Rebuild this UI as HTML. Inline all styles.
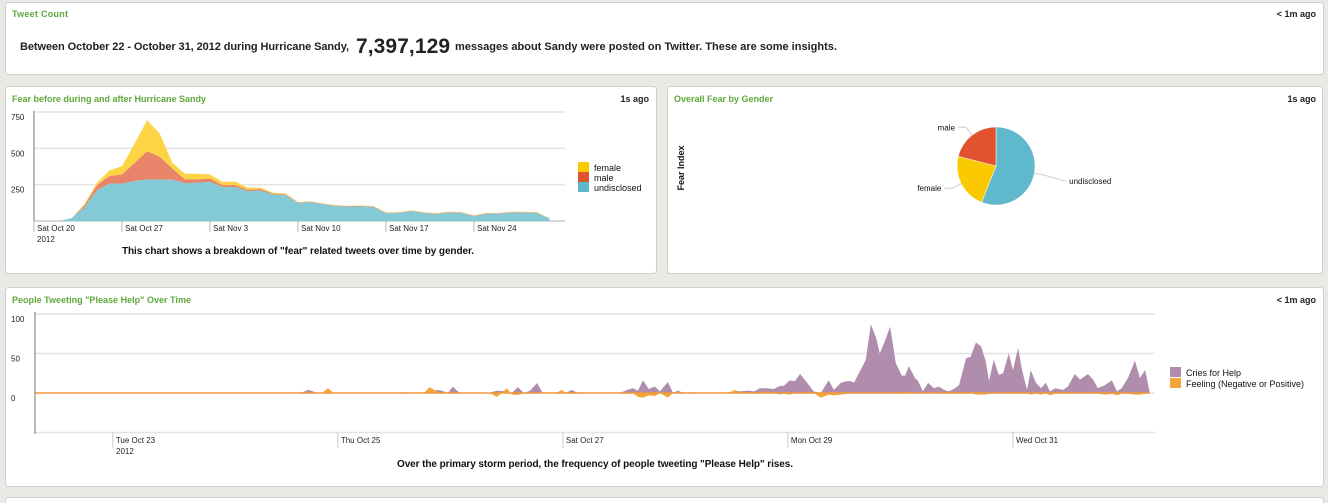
<!DOCTYPE html>
<html><head><meta charset="utf-8"><style>
html,body{margin:0;padding:0;background:#e9e9e6;}
svg{display:block;font-family:"Liberation Sans",sans-serif;}
</style></head><body>
<svg id="page" width="1328" height="503" viewBox="0 0 1328 503">
<g>
<rect x="5.5" y="2.5" width="1318" height="72" rx="3" fill="#fff" stroke="#d0d0cc"/>
<text x="12" y="17" font-size="9" font-weight="bold" fill="#5fa83a" textLength="56">Tweet Count</text>
<text x="1316" y="17" font-size="9" font-weight="bold" fill="#222" text-anchor="end">&lt; 1m ago</text>
<text x="20" y="50" font-size="11" font-weight="bold" fill="#222" textLength="329">Between October 22 - October 31, 2012 during Hurricane Sandy,</text>
<text x="356" y="53" font-size="21" font-weight="bold" fill="#222" textLength="94">7,397,129</text>
<text x="455" y="50" font-size="11" font-weight="bold" fill="#222" textLength="382">messages about Sandy were posted on Twitter. These are some insights.</text>
</g>
<g>
<rect x="5.5" y="86.5" width="651" height="187" rx="3" fill="#fff" stroke="#d0d0cc"/>
<text x="12" y="102" font-size="9" font-weight="bold" fill="#5fa83a" textLength="194">Fear before during and after Hurricane Sandy</text>
<text x="649" y="102" font-size="9" font-weight="bold" fill="#222" text-anchor="end">1s ago</text>
<g id="fearChart"></g>
<text x="298" y="254" font-size="10" font-weight="bold" fill="#111" text-anchor="middle" textLength="352">This chart shows a breakdown of "fear" related tweets over time by gender.</text>
</g>
<g>
<rect x="667.5" y="86.5" width="655" height="187" rx="3" fill="#fff" stroke="#d0d0cc"/>
<text x="674" y="102" font-size="9" font-weight="bold" fill="#5fa83a" textLength="99">Overall Fear by Gender</text>
<text x="1316" y="102" font-size="9" font-weight="bold" fill="#222" text-anchor="end">1s ago</text>
<text x="684" y="168" font-size="9" font-weight="bold" fill="#111" text-anchor="middle" transform="rotate(-90 684 168)">Fear Index</text>
<g id="pieChart"></g>
</g>
<g>
<rect x="5.5" y="287.5" width="1318" height="199" rx="3" fill="#fff" stroke="#d0d0cc"/>
<text x="12" y="303" font-size="9" font-weight="bold" fill="#5fa83a" textLength="179">People Tweeting "Please Help" Over Time</text>
<text x="1316" y="303" font-size="9" font-weight="bold" fill="#222" text-anchor="end">&lt; 1m ago</text>
<g id="helpChart"></g>
<text x="595" y="467" font-size="10" font-weight="bold" fill="#111" text-anchor="middle" textLength="396">Over the primary storm period, the frequency of people tweeting "Please Help" rises.</text>
</g>
<rect x="5.5" y="497.5" width="1318" height="20" rx="3" fill="#fff" stroke="#d0d0cc"/>
</svg>
<script>
// ---------- Fear chart data (daily from Sat Oct 20) ----------
const fearDays = Array.from({length:42},(_,i)=>i);
const fearUndisclosed = [0,0,0,20,93,211,257,257,275,285,285,285,261,263,269,232,234,205,210,183,177,124,130,114,103,99,101,97,53,55,67,55,48,58,55,33,50,50,58,58,55,16];
const fearMale = [0,0,0,0,11,34,53,62,124,195,156,75,25,23,23,14,14,9,9,5,5,3,3,3,3,3,3,3,3,3,3,3,3,3,3,3,3,3,3,3,3,2];
const fearFemale = [0,0,0,0,11,16,39,58,133,213,161,41,39,39,28,23,23,16,11,7,7,3,3,3,3,3,3,3,3,3,3,3,3,3,3,3,3,3,3,3,3,2];
const fearYTicks = [250,500,750];
const fearXTickLabels = ["Sat Oct 20","Sat Oct 27","Sat Nov 3","Sat Nov 10","Sat Nov 17","Sat Nov 24"];
const fearXTickDays = [0,7,14,21,28,35];
const fearLegend = ["female","male","undisclosed"];

// ---------- Pie data ----------
const pieLabels = ["undisclosed","female","male"];
const pieValues = [56,23,21];

// ---------- Help chart data (hours since Oct 22 00:00) ----------
const helpHours = [7.5,63.9,65.8,67.7,68.6,69.9,71.1,85.7,86.7,87.8,90.3,91.6,93.1,94.2,95.5,96.5,98.0,104.4,105.9,108.1,109.1,110.4,111.7,113.0,114.5,115.7,118.5,119.8,120.6,121.9,123.2,132.2,133.7,134.9,136.0,137.1,138.3,139.6,140.7,142.4,143.5,144.5,145.8,147.7,148.8,155.2,156.7,157.8,159.5,160.8,162.0,163.5,165.0,166.3,167.1,168.4,169.5,170.6,172.1,173.5,175.0,176.7,177.8,179.3,180.6,181.4,182.1,183.4,184.6,185.7,186.8,187.6,188.7,189.8,191.0,192.3,193.0,193.8,195.1,195.7,196.8,197.9,199.1,200.2,201.3,202.3,203.4,204.5,206.0,207.0,208.1,209.2,210.2,210.9,211.9,213.0,213.9,215.1,216.0,217.1,217.9,219.0,219.8,220.9,222.0,223.0,223.9,225.0,225.8,226.7,227.7,229.2,230.3,232.0,233.1,234.1,235.6,237.1,238.2,239.2,240.7,242.0,243.1,244.2,245.2];
const helpCries = [0,0,4,0,0,0,0,0,1,0,0,0,4,3,0,8,0,0,3,2,0,7.5,0,3,12.5,0,0,0,0,4,0,0,4,6,3,16,5,8,2,14,0,3,0,1,0,0,3,2,3,2,6,6,5,9,9,16,15,24,13,2,0,16,4,13,15,15,13,28,42,87,70,50,66,84,38,22,22,34,19,16,2,13,6,8,4,2,5,10,44,46,64,59,40,15,42,23,25,50,29,57,30,4,29,13,6,13,2,6,5,4,8,24,17,24,17,6,10,16,2,6,21,41,19,29,0];
const helpFeeling = [0,0,0,0,0,6,0,0,0,0,0,7.5,2,0,0,-1,0,0,-5,6,-2,-2.5,0,0,0,0,0,4,0,0,0,0,0,0,-5,-6,-3,-4,0,-6,0,0,0,0,0,0,4,0,1,0,1,2,0,-2,-1,-2,0,-1,1,0,-6,-2,-3,-2,-1,0,-1,0,1,0,1,-1,0,1,-1,0,1,1,0,1,0,0,1,0,0,0,-1,-1,-1,0,-2,-2,-2,-1,-1,0,0,-1,-1,0,-1,0,-2,-1,-2,0,-3,-1,0,-1,-1,1,0,0,-1,-1,-2,-1,-3,-1,-1,-2,-2,-1,0];
const helpYTicks = [0,50,100];
const helpXTickLabels = ["Tue Oct 23","Thu Oct 25","Sat Oct 27","Mon Oct 29","Wed Oct 31"];
const helpXTickHours = [24,72,120,168,216];
const helpLegend = ["Cries for Help","Feeling (Negative or Positive)"];

const NS="http://www.w3.org/2000/svg";
function mk(parent,tag,attrs,text){const e=document.createElementNS(NS,tag);for(const k in attrs)e.setAttribute(k,attrs[k]);if(text!==undefined)e.textContent=text;parent.appendChild(e);return e;}

// ---------- Fear chart ----------
(function(){
  const g=document.getElementById('fearChart');
  const x0=34,x1=565,y0=221,y1=112;
  const fx=d=>x0+d*88/7;
  const fy=v=>y0-(v/750)*(y0-y1);
  fearYTicks.forEach(t=>{
    const l=mk(g,'line',{x1:x0,x2:x1,y1:fy(t),y2:fy(t),stroke:'#e3e3e3','stroke-width':1.5});
    
    
    const tx=mk(g,'text',{x:11,y:fy(t)+8,'font-size':8,fill:'#222'},String(t));
    
    
  });
  const base=mk(g,'line',{x1:x0,x2:x1,y1:y0,y2:y0,stroke:'#ccc','stroke-width':1.5});
  
  
  const c1=fearUndisclosed, c2=fearUndisclosed.map((v,i)=>v+fearMale[i]), c3=c2.map((v,i)=>v+fearFemale[i]);
  function area(top,bot,fill,name){
    let d='M'+fearDays.map(i=>fx(i)+','+fy(top[i])).join('L');
    d+='L'+fearDays.slice().reverse().map(i=>fx(i)+','+fy(bot[i])).join('L')+'Z';
    const p=mk(g,'path',{d:d,fill:fill});
    
    
  }
  const zero=fearDays.map(()=>0);
  area(c3,c2,'#fcd444','fear-area-female');
  area(c2,c1,'#e8846a','fear-area-male');
  area(c1,zero,'#84c9d6','fear-area-undisclosed');
  const ya=mk(g,'line',{x1:x0,x2:x0,y1:111,y2:228,stroke:'#777'});
  
  
  fearXTickDays.forEach((d,i)=>{
    const l=mk(g,'line',{x1:fx(d),x2:fx(d),y1:y0,y2:y0+11,stroke:'#bbb'});
    
    
    const t=mk(g,'text',{x:fx(d)+3,y:231,'font-size':8,fill:'#222'},fearXTickLabels[i]);
    
    
  });
  const yr=mk(g,'text',{x:37,y:242,'font-size':8,fill:'#222'},'2012');
  
  
  const cols=['#fcc800','#e1532f','#5eb8cb'];
  fearLegend.forEach((n,i)=>{
    const r=mk(g,'rect',{x:578,y:162+i*10,width:11,height:10,fill:cols[i]});
    
    
    const t=mk(g,'text',{x:594,y:171+i*10,'font-size':9,fill:'#111'},n);
    
    
  });
})();

// ---------- Pie ----------
(function(){
  const g=document.getElementById('pieChart');
  const cx=996,cy=166,r=39;
  const cols={undisclosed:'#5fb8cb',female:'#fbc900',male:'#e1532f'};
  const total=pieValues.reduce((a,b)=>a+b,0);
  let a=0;
  pieValues.forEach((v,i)=>{
    const a0=a, a1=a+v/total*2*Math.PI; a=a1;
    const p=(t,rr)=>[cx+rr*Math.sin(t),cy-rr*Math.cos(t)];
    const [sx,sy]=p(a0,r),[ex,ey]=p(a1,r);
    const large=(a1-a0)>Math.PI?1:0;
    const s=mk(g,'path',{d:`M${cx},${cy}L${sx},${sy}A${r},${r} 0 ${large} 1 ${ex},${ey}Z`,fill:cols[pieLabels[i]],stroke:'#fff','stroke-width':0.5});
    
    
    const m=(a0+a1)/2;
    const [lx,ly]=p(m,r),[ox,oy]=p(m,r+10);
    const right=Math.sin(m)>0;
    const ey2=right?oy+6:oy;
    const ex2=ox+(right?22:-8);
    const l=mk(g,'polyline',{points:`${lx},${ly} ${ox},${oy} ${ex2},${ey2}`,fill:'none',stroke:'#ccc'});
    
    
    const t=mk(g,'text',{x:ex2+(right?3:-3),y:ey2+3,'font-size':8,fill:'#111','text-anchor':right?'start':'end'},pieLabels[i]);
    
    
  });
})();

// ---------- Help chart ----------
(function(){
  const g=document.getElementById('helpChart');
  const x0=35,x1=1155,hMin=7.4,hMax=246.3;
  const hx=h=>x0+(h-hMin)/(hMax-hMin)*(x1-x0);
  const hy=v=>393-v*0.79;
  [100,50,0,-50].forEach(t=>{
    const l=mk(g,'line',{x1:x0,x2:x1,y1:hy(t),y2:hy(t),stroke:'#e3e3e3','stroke-width':1.5});
    
    
  });
  helpYTicks.forEach(t=>{
    const tx=mk(g,'text',{x:11,y:hy(t)+8,'font-size':8,fill:'#222'},String(t));
    
    
  });
  function area(vals,fill,name){
    let d='M'+hx(helpHours[0])+','+hy(0)+'L'+helpHours.map((h,i)=>hx(h)+','+hy(vals[i])).join('L')+'L'+hx(helpHours[helpHours.length-1])+','+hy(0)+'Z';
    const p=mk(g,'path',{d:d,fill:fill});
    
    
  }
  area(helpCries,'#b08cad','help-area-cries');
  area(helpFeeling,'#f6a53c','help-area-feeling');
  const bl=mk(g,'line',{x1:x0,x2:hx(helpHours[helpHours.length-1]),y1:hy(0),y2:hy(0),stroke:'#f29a3a','stroke-width':1.5});
  
  
  const ya=mk(g,'line',{x1:x0,x2:x0,y1:312,y2:434,stroke:'#777'});
  
  
  helpXTickHours.forEach((h,i)=>{
    const l=mk(g,'line',{x1:hx(h),x2:hx(h),y1:432,y2:448,stroke:'#ccc'});
    
    
    const t=mk(g,'text',{x:hx(h)+3,y:443,'font-size':8,fill:'#222'},helpXTickLabels[i]);
    
    
  });
  const yr=mk(g,'text',{x:116,y:454,'font-size':8,fill:'#222'},'2012');
  
  
  const cols=['#b08cad','#f6a53c'];
  helpLegend.forEach((n,i)=>{
    const r=mk(g,'rect',{x:1170,y:367+i*11,width:11,height:10,fill:cols[i]});
    
    
    const t=mk(g,'text',{x:1186,y:376+i*11,'font-size':9,fill:'#111'},n);
    
    
  });
})();
</script>
</body></html>
